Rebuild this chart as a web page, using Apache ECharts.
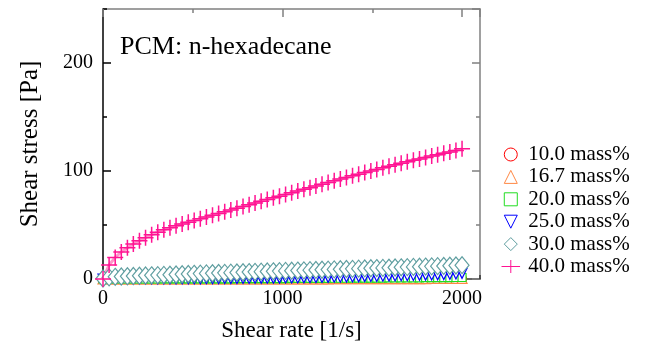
<!DOCTYPE html>
<html>
<head>
<meta charset="utf-8">
<script src="https://cdn.jsdelivr.net/npm/echarts@6/dist/echarts.min.js"></script>
<style>
  html, body { margin: 0; padding: 0; background: #fff; }
  #chart { width: 649px; height: 352px; }
</style>
</head>
<body>
<div id="chart"></div>
<script>
// shear rate [1/s]
const shearRate = [
  0, 34, 68, 102, 136, 169, 203, 237, 271, 305,
  339, 373, 407, 441, 475, 508, 542, 576, 610, 644,
  678, 712, 746, 780, 814, 847, 881, 915, 949, 983,
  1017, 1051, 1085, 1119, 1153, 1186, 1220, 1254, 1288, 1322,
  1356, 1390, 1424, 1458, 1492, 1525, 1559, 1593, 1627, 1661,
  1695, 1729, 1763, 1797, 1831, 1864, 1898, 1932, 1966, 2000
];

// shear stress [Pa] per concentration
const stress10 = [
  0, 0, 0, 0, 0, 0, 0, 0, 0, 0,
  0, 0, 0, 0, 0, 0, 0, 0, 0, 0,
  0, 0, 0, 0, 0, 0, 0, 0, 0, 0,
  0, 0, 0, 0, 0, 0.1, 0.1, 0.1, 0.1, 0.1,
  0.1, 0.1, 0.1, 0.1, 0.1, 0.1, 0.1, 0.1, 0.1, 0.1,
  0.1, 0.1, 0.2, 0.2, 0.2, 0.2, 0.2, 0.2, 0.2, 0.2
];
const stress16 = [
  0, 0, 0, 0, 0, 0, 0, 0, 0, 0,
  0, 0, 0, 0, 0, 0, 0, 0, 0, 0,
  0.1, 0.1, 0.1, 0.1, 0.1, 0.1, 0.1, 0.1, 0.1, 0.1,
  0.2, 0.2, 0.2, 0.2, 0.2, 0.2, 0.2, 0.2, 0.3, 0.3,
  0.3, 0.3, 0.3, 0.3, 0.3, 0.3, 0.4, 0.4, 0.4, 0.4,
  0.4, 0.4, 0.4, 0.4, 0.5, 0.5, 0.5, 0.5, 0.5, 0.5
];
const stress20 = [
  0, 0, 0, 0, 0, 0, 0, 0, 0, 0,
  0.1, 0.1, 0.1, 0.1, 0.1, 0.1, 0.1, 0.2, 0.2, 0.2,
  0.2, 0.2, 0.3, 0.3, 0.3, 0.3, 0.3, 0.4, 0.4, 0.4,
  0.4, 0.5, 0.5, 0.5, 0.5, 0.6, 0.6, 0.6, 0.7, 0.7,
  0.7, 0.8, 0.8, 0.8, 0.9, 0.9, 0.9, 1, 1, 1,
  1.1, 1.1, 1.1, 1.2, 1.2, 1.2, 1.3, 1.3, 1.4, 1.4
];
const stress25 = [
  0, 0, 0, 0, 0, 0, 0, 0, 0.1, 0.1,
  0.1, 0.1, 0.1, 0.2, 0.2, 0.2, 0.2, 0.3, 0.3, 0.3,
  0.4, 0.4, 0.4, 0.5, 0.5, 0.6, 0.6, 0.7, 0.7, 0.8,
  0.9, 0.9, 1, 1.1, 1.2, 1.3, 1.4, 1.5, 1.6, 1.7,
  1.8, 1.9, 2, 2.2, 2.3, 2.4, 2.6, 2.7, 2.8, 3,
  3.1, 3.3, 3.4, 3.6, 3.7, 3.9, 4.1, 4.3, 4.6, 5.2
];
const stress30 = [
  0.5, 1.5, 2, 2.3, 2.5, 2.8, 3, 3.2, 3.4, 3.6,
  3.8, 4, 4.2, 4.4, 4.6, 4.8, 5, 5.2, 5.3, 5.5,
  5.7, 5.9, 6, 6.2, 6.4, 6.6, 6.8, 7, 7.1, 7.3,
  7.5, 7.7, 7.8, 8, 8.2, 8.4, 8.6, 8.7, 8.9, 9.1,
  9.3, 9.4, 9.6, 9.8, 10, 10.1, 10.3, 10.5, 10.7, 10.8,
  11, 11.2, 11.4, 11.5, 11.7, 11.9, 12.1, 12.3, 12.5, 12.8
];
const stress40 = [
  0, 13, 20, 25, 29, 32.5, 35.5, 38.3, 41, 43.3,
  45.5, 47.5, 49.3, 51, 52.5, 54.2, 55.8, 57.4, 59, 60.7,
  62.3, 64, 65.6, 67.2, 68.8, 70.4, 72, 73.6, 75.2, 76.6,
  78.2, 79.8, 81.4, 83, 84.6, 86.2, 87.8, 89.4, 91, 92.5,
  94, 95.5, 97, 98.5, 100, 101.5, 102.9, 104.3, 105.7, 107.1,
  108.5, 109.9, 111.2, 112.5, 113.8, 115.1, 116.4, 117.7, 119, 120.5
];

const seriesNames = ["10.0 mass%", "16.7 mass%", "20.0 mass%", "25.0 mass%", "30.0 mass%", "40.0 mass%"];
const xTicks = { min: 0, max: 2100, major: 1000, minor: 500 };
const yTicks = { min: 0, max: 250, major: 100, minor: 50 };

const FONT = "Liberation Serif";
const CROSS = "path://M5,0L5,10M0,5L10,5";
// legend icons as square paths so they keep their shape
const ICON_UP = "path://M5,0L10,10L0,10Z";
const ICON_DOWN = "path://M0,0L10,0L5,10Z";
const ICON_SQUARE = "path://M0,0L10,0L10,10L0,10Z";
const ICON_DIAMOND = "path://M5,0L10,5L5,10L0,5Z";
const ICON_CROSS = "path://M10,0L10,14M0,7L20,7";

function pairs(ys) {
  return shearRate.map((x, i) => [x, ys[i]]);
}

function axis(pos, t, step, len, showLine, lineColor, extra) {
  return Object.assign({
    type: "value",
    position: pos,
    min: t.min,
    max: t.max,
    interval: step,
    axisLine: { show: showLine, onZero: false, lineStyle: { color: lineColor, width: 1.5 } },
    axisTick: { show: true, inside: true, length: len, lineStyle: { color: lineColor, width: 1.5 } },
    axisLabel: { show: false },
    splitLine: { show: false },
  }, extra || {});
}

const tickLabel = {
  show: true,
  showMaxLabel: false,
  margin: 10,
  fontFamily: FONT,
  fontSize: 20,
  color: "#000",
  formatter: (v) => String(v),
};

const chart = echarts.init(document.getElementById("chart"), null, { renderer: "canvas" });

const mk = (name, ys, symbol, size, color, extra) => Object.assign({
  name: name,
  type: "line",
  data: pairs(ys),
  symbol: symbol,
  symbolSize: size,
  showAllSymbol: true,
  clip: false,
  lineStyle: { width: 0 },
  itemStyle: { color: "#fff", borderColor: color, borderWidth: 1.2 },
  emphasis: { disabled: true },
}, extra || {});

chart.setOption({
  animation: false,
  backgroundColor: "#fff",
  title: {
    text: "PCM: n-hexadecane",
    left: 115,
    top: 29,
    textStyle: { fontFamily: FONT, fontSize: 26, fontWeight: "normal", color: "#000" },
  },
  grid: { left: 103, right: 169, top: 9, bottom: 73, containLabel: false },
  legend: {
    orient: "vertical",
    left: 496,
    top: 139,
    itemWidth: 21,
    itemHeight: 13,
    itemGap: 1.4,
    symbolKeepAspect: true,
    itemStyle: { borderWidth: 1 },
    textStyle: { fontFamily: FONT, fontSize: 21, lineHeight: 21, color: "#000", padding: [0, 0, 0, 2] },
    data: [
      { name: seriesNames[0], icon: "circle" },
      { name: seriesNames[1], icon: ICON_UP },
      { name: seriesNames[2], icon: ICON_SQUARE },
      { name: seriesNames[3], icon: ICON_DOWN },
      { name: seriesNames[4], icon: ICON_DIAMOND },
      { name: seriesNames[5], icon: ICON_CROSS },
    ],
  },
  xAxis: [
    axis("bottom", xTicks, xTicks.major, 8, true, "#333", {
      name: "Shear rate [1/s]",
      nameLocation: "middle",
      nameGap: 40,
      nameTextStyle: { fontFamily: FONT, fontSize: 23, color: "#000" },
      axisLabel: tickLabel,
    }),
    axis("bottom", xTicks, xTicks.minor, 4, false, "#333"),
    axis("top", xTicks, xTicks.major, 8, true, "#808080"),
    axis("top", xTicks, xTicks.minor, 4, false, "#808080"),
  ],
  yAxis: [
    axis("left", yTicks, yTicks.major, 8, true, "#000", {
      name: "Shear stress [Pa]",
      nameLocation: "middle",
      nameGap: 60,
      nameTextStyle: { fontFamily: FONT, fontSize: 25, color: "#000" },
      axisLabel: tickLabel,
    }),
    axis("left", yTicks, yTicks.minor, 4, false, "#000"),
    axis("right", yTicks, yTicks.major, 8, true, "#808080"),
    axis("right", yTicks, yTicks.minor, 4, false, "#808080"),
  ],
  series: [
    mk(seriesNames[0], stress10, "circle", 9, "#ff0000"),
    mk(seriesNames[1], stress16, "triangle", 10, "#ff8844"),
    mk(seriesNames[2], stress20, "rect", 8, "#22dd22"),
    mk(seriesNames[3], stress25, "triangle", 10, "#0000ff", { symbolRotate: 180 }),
    mk(seriesNames[4], stress30, "diamond", [14, 17], "#5f9ea0"),
    mk(seriesNames[5], stress40, CROSS, 16, "#ff1493", {
      lineStyle: { width: 3, color: "rgba(255,105,180,0.7)" },
      itemStyle: { color: "rgba(0,0,0,0)", borderColor: "#ff1493", borderWidth: 1.5 },
    }),
  ],
});
</script>
</body>
</html>
